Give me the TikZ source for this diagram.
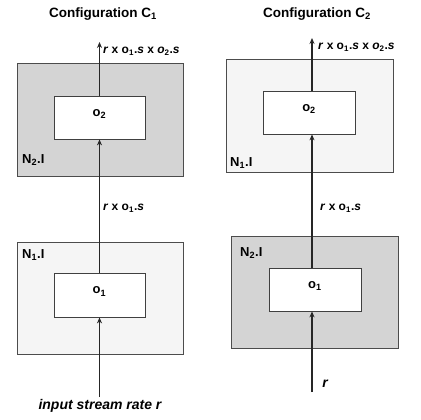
\documentclass[tikz,border=0pt]{standalone}
\usepackage{fontspec}
\setmainfont{Liberation Sans}
\usetikzlibrary{fit,arrows.meta}
\begin{document}
\begin{tikzpicture}[x=1pt,y=-1pt,
  hostdark/.style={draw=black!70,line width=0.7pt,fill=black!17,inner sep=0pt},
  hostlight/.style={draw=black!70,line width=0.7pt,fill=black!4,inner sep=0pt},
  opbox/.style={draw=black!75,line width=0.8pt,fill=white,inner sep=0pt,font=\bfseries\fontsize{13}{15}\selectfont},
  flow/.style={line width=1.5pt,draw=black!85,-{Stealth[length=6pt,width=5pt]}},
  ratelbl/.style={anchor=west,inner sep=0pt,font=\bfseries\fontsize{12}{14}\selectfont},
  hostlbl/.style={anchor=west,inner sep=0pt,font=\bfseries\fontsize{13}{15}\selectfont},
  title/.style={inner sep=0pt,font=\bfseries\fontsize{13.5}{16}\selectfont}]
\useasboundingbox (0,0) rectangle (421,420);
\fill[white] (0,0) rectangle (421,420);

% ---- Configuration C1 ----
\node[title] (t1) at (103,14) {Configuration C\textsubscript{1}};
\node[hostdark,fit={(17,63)(183,176)}] (h2a) {};
\node[opbox,fit={(54,96)(145,139)}] (o2a) {o\textsubscript{2}};
\node[hostlbl] (l2a) at (22,160) {N\textsubscript{2}.I};
\node[hostlight,fit={(17,242)(183,354)}] (h1a) {};
\node[opbox,fit={(54,273)(145,317)}] (o1a) {o\textsubscript{1}};
\node[hostlbl] (l1a) at (22,255) {N\textsubscript{1}.I};
\coordinate (ina) at (o1a.south |- 0,397);
\coordinate (outa) at (o2a.north |- 0,42);
\draw[flow] (ina) -- (o1a.south);
\draw[flow] (o1a.north) -- (o2a.south);
\draw[flow] (o2a.north) -- (outa);
\node[ratelbl] (r2a) at (103,51) {\textit{r} x o\textsubscript{1}.\textit{s} x \textit{o}\textsubscript{2}.\textit{s}};
\node[ratelbl] (r1a) at (103,208) {\textit{r} x o\textsubscript{1}.\textit{s}};
\node[inner sep=0pt,font=\bfseries\itshape\fontsize{14}{16}\selectfont] (ra) at (100,406) {input stream rate r};

% ---- Configuration C2 ----
\node[title] (t2) at (317,14) {Configuration C\textsubscript{2}};
\node[hostlight,fit={(226,59)(393,172)}] (h1b) {};
\node[opbox,fit={(263,91)(355,134)}] (o2b) {o\textsubscript{2}};
\node[hostlbl] (l1b) at (230,163) {N\textsubscript{1}.I};
\node[hostdark,fit={(231,236)(398,348)}] (h2b) {};
\node[opbox,fit={(269,268)(361,311)}] (o1b) {o\textsubscript{1}};
\node[hostlbl] (l2b) at (240,253) {N\textsubscript{2}.I};
\coordinate (inb) at (312,392);
\draw[flow] (inb) -- (inb |- o1b.south);
\draw[flow] (inb |- o1b.north) -- (inb |- o2b.south);
\draw[flow] (inb |- o2b.north) -- (312,38);
\node[ratelbl] (r2b) at (318,47) {\textit{r} x o\textsubscript{1}.\textit{s} x \textit{o}\textsubscript{2}.\textit{s}};
\node[ratelbl] (r1b) at (320,208) {\textit{r} x o\textsubscript{1}.\textit{s}};
\node[inner sep=0pt,font=\bfseries\itshape\fontsize{14}{16}\selectfont] (rb) at (325,384) {r};
\end{tikzpicture}
\end{document}
